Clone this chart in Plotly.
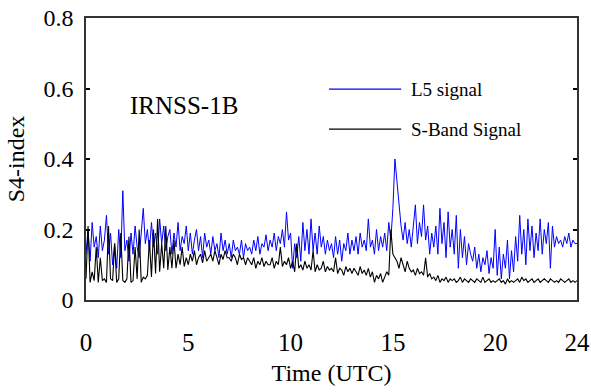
import plotly.graph_objects as go

# Time axis: 0 to 24 h UTC, one sample every 0.1 h
time_utc = [i / 10 for i in range(241)]

l5_signal = [
    0.13, 0.20, 0.11, 0.22, 0.15, 0.18, 0.12, 0.21, 0.14, 0.17,
    0.24, 0.13, 0.19, 0.10, 0.16, 0.09, 0.20, 0.12, 0.31, 0.14,
    0.17, 0.11, 0.19, 0.13, 0.21, 0.15, 0.12, 0.18, 0.26, 0.16,
    0.20, 0.14, 0.22, 0.15, 0.19, 0.13, 0.23, 0.16, 0.21, 0.14,
    0.18, 0.20, 0.13, 0.19, 0.15, 0.22, 0.14, 0.18, 0.16, 0.21,
    0.14, 0.19, 0.13, 0.17, 0.20, 0.14, 0.18, 0.12, 0.19, 0.15,
    0.17, 0.13, 0.18, 0.14, 0.16, 0.12, 0.19, 0.14, 0.17, 0.13,
    0.16, 0.12, 0.17, 0.14, 0.15, 0.13, 0.17, 0.12, 0.16, 0.14,
    0.15, 0.13, 0.17, 0.14, 0.18, 0.13, 0.16, 0.15, 0.185, 0.14,
    0.17, 0.15, 0.19, 0.14, 0.18, 0.16, 0.20, 0.15, 0.25, 0.17,
    0.19, 0.09, 0.16, 0.12, 0.18, 0.11, 0.22, 0.14, 0.20, 0.13,
    0.23, 0.14, 0.19, 0.13, 0.21, 0.15, 0.18, 0.13, 0.17, 0.14,
    0.16, 0.12, 0.18, 0.13, 0.17, 0.11, 0.16, 0.14, 0.19, 0.13,
    0.17, 0.14, 0.18, 0.13, 0.19, 0.15, 0.17, 0.14, 0.23, 0.15,
    0.17, 0.13, 0.20, 0.14, 0.18, 0.15, 0.19, 0.14, 0.22, 0.17,
    0.26, 0.40, 0.34, 0.26, 0.21, 0.17, 0.22, 0.16, 0.20, 0.15,
    0.21, 0.27, 0.16, 0.22, 0.18, 0.27, 0.17, 0.21, 0.13, 0.19,
    0.15, 0.21, 0.13, 0.26, 0.16, 0.22, 0.12, 0.25, 0.15, 0.20,
    0.13, 0.24, 0.09, 0.20, 0.12, 0.18, 0.10, 0.16, 0.13, 0.11,
    0.15, 0.09, 0.13, 0.08, 0.12, 0.10, 0.14, 0.075, 0.12, 0.09,
    0.20, 0.07, 0.15, 0.06, 0.13, 0.09, 0.17, 0.06, 0.14, 0.08,
    0.18, 0.11, 0.24, 0.13, 0.20, 0.10, 0.23, 0.14, 0.21, 0.12,
    0.19, 0.14, 0.23, 0.13, 0.20, 0.16, 0.22, 0.09, 0.21, 0.15,
    0.18, 0.16, 0.17, 0.15, 0.18, 0.16, 0.19, 0.15, 0.17, 0.16,
    0.16,
]

s_band_signal = [
    0.06, 0.21, 0.05, 0.08, 0.055, 0.15, 0.05, 0.12, 0.055, 0.06,
    0.05, 0.21, 0.06, 0.055, 0.16, 0.05, 0.06, 0.19, 0.055, 0.05,
    0.06, 0.18, 0.05, 0.055, 0.15, 0.06, 0.20, 0.05, 0.065, 0.06,
    0.07, 0.17, 0.065, 0.20, 0.075, 0.23, 0.08, 0.16, 0.09, 0.21,
    0.085, 0.15, 0.09, 0.17, 0.09, 0.13, 0.10, 0.15, 0.095, 0.12,
    0.10, 0.13, 0.11, 0.14, 0.10, 0.12, 0.13, 0.105, 0.14, 0.11,
    0.12, 0.13, 0.11, 0.14, 0.12, 0.10, 0.13, 0.115, 0.14, 0.12,
    0.12, 0.11, 0.13, 0.12, 0.10, 0.13, 0.115, 0.12, 0.10, 0.12,
    0.11, 0.10, 0.12, 0.09, 0.11, 0.10, 0.12, 0.095, 0.11, 0.10,
    0.10, 0.12, 0.09, 0.11, 0.10, 0.15, 0.095, 0.11, 0.10, 0.12,
    0.09, 0.11, 0.08, 0.16, 0.09, 0.10, 0.085, 0.11, 0.09, 0.10,
    0.085, 0.14, 0.08, 0.10, 0.085, 0.09, 0.11, 0.08, 0.095, 0.085,
    0.09, 0.08, 0.12, 0.075, 0.09, 0.085, 0.07, 0.095, 0.08, 0.09,
    0.075, 0.09, 0.08, 0.07, 0.095, 0.075, 0.085, 0.07, 0.09, 0.065,
    0.08, 0.05, 0.07, 0.06, 0.075, 0.05, 0.065, 0.08, 0.07, 0.20,
    0.13, 0.12, 0.11, 0.09, 0.12, 0.10, 0.08, 0.11, 0.09, 0.08,
    0.085, 0.07, 0.09, 0.075, 0.08, 0.07, 0.12, 0.065, 0.075, 0.06,
    0.065, 0.055, 0.07, 0.05, 0.06, 0.055, 0.065, 0.05, 0.06, 0.055,
    0.06, 0.05, 0.055, 0.065, 0.05, 0.06, 0.055, 0.05, 0.06, 0.055,
    0.05, 0.06, 0.055, 0.05, 0.065, 0.05, 0.055, 0.06, 0.05, 0.055,
    0.05, 0.055, 0.06, 0.05, 0.055, 0.045, 0.06, 0.05, 0.055, 0.05,
    0.055, 0.06, 0.05, 0.065, 0.055, 0.06, 0.05, 0.055, 0.06, 0.05,
    0.055, 0.06, 0.05, 0.055, 0.06, 0.055, 0.05, 0.06, 0.055, 0.05,
    0.055, 0.05, 0.06, 0.055, 0.05, 0.055, 0.06, 0.05, 0.055, 0.05,
    0.055,
]

x_ticks = [0, 5, 10, 15, 20, 24]
y_ticks = [0, 0.2, 0.4, 0.6, 0.8]
y_tick_text = ["0", "0.2", "0.4", "0.6", "0.8"]
series_names = ["L5 signal", "S-Band Signal"]
series_colors = ["#0000ff", "#000000"]
satellite = "IRNSS-1B"

FONT = "Liberation Serif"

fig = go.Figure()
fig.add_trace(go.Scatter(x=time_utc, y=l5_signal, mode="lines", name=series_names[0],
                         line=dict(color=series_colors[0], width=1), showlegend=False))
fig.add_trace(go.Scatter(x=time_utc, y=s_band_signal, mode="lines", name=series_names[1],
                         line=dict(color=series_colors[1], width=1.1), showlegend=False))

# manual legend (line samples + labels)
legend_y = [0.748, 0.606]
for name, color, ly in zip(series_names, series_colors, legend_y):
    fig.add_shape(type="line", xref="paper", yref="paper", x0=0.495, x1=0.642, y0=ly, y1=ly,
                  line=dict(color=color, width=1.2))
    fig.add_annotation(xref="paper", yref="paper", x=0.658, y=ly, xanchor="left", yanchor="middle",
                       text=name, showarrow=False, font=dict(family=FONT, size=19, color="#000"))

fig.add_annotation(x=4.8, y=0.553, text=satellite, showarrow=False, xanchor="center", yanchor="middle",
                   font=dict(family=FONT, size=25, color="#000"))

fig.update_layout(
    width=591, height=392,
    margin=dict(l=86, r=14, t=18, b=92, autoexpand=False),
    paper_bgcolor="white", plot_bgcolor="white",
    font=dict(color="#000"),
    xaxis=dict(range=[0, 24], tickvals=x_ticks, ticks="", showgrid=False, zeroline=False,
               showline=True, linecolor="#333", linewidth=1.5, mirror=True, automargin=False,
               ticklabelstandoff=19, ticklabeloverflow="allow",
               tickfont=dict(family=FONT, size=25),
               title=dict(text="Time (UTC)", font=dict(family=FONT, size=24), standoff=9)),
    yaxis=dict(range=[0, 0.8], tickvals=y_ticks, ticktext=y_tick_text, ticks="inside", ticklen=4,
               tickcolor="#000", tickwidth=1.5, showgrid=False, zeroline=False,
               showline=True, linecolor="#333", linewidth=1.5, mirror="ticks", automargin=False,
               ticklabelstandoff=6, ticklabeloverflow="allow",
               tickfont=dict(family=FONT, size=24),
               title=dict(text="S4-index", font=dict(family=FONT, size=24), standoff=12)),
)

fig.write_html("out.html", config={"displayModeBar": False},
               post_script="document.body.style.margin='0';document.body.style.overflow='hidden';")
